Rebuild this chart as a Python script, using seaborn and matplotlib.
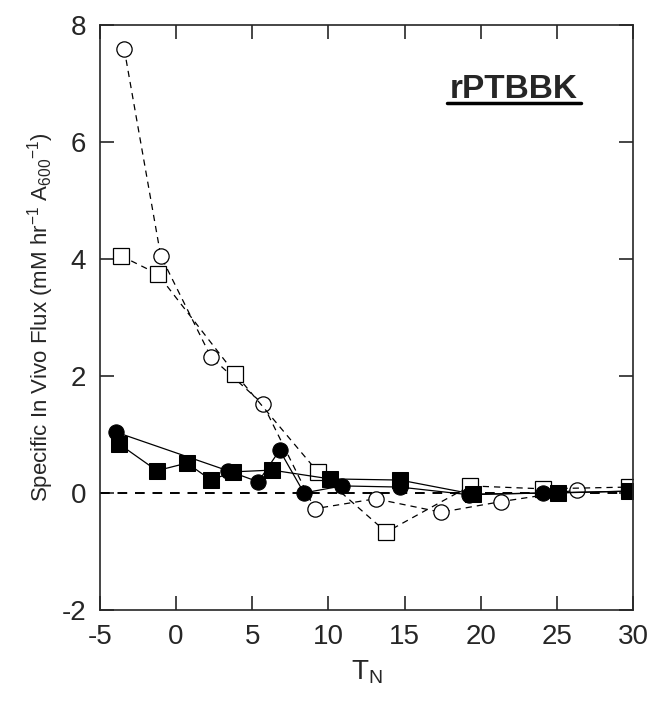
import numpy as np
import pandas as pd
import matplotlib
matplotlib.use('Agg')
import matplotlib.pyplot as plt
import seaborn as sns

# open circles (dashed)
oc_x = [-3.4, -1.0, 2.3, 5.7, 9.1, 13.1, 17.4, 21.3, 26.3]
oc_y = [7.59, 4.05, 2.32, 1.52, -0.27, -0.10, -0.33, -0.15, 0.05]
# open squares (dashed)
os_x = [-3.6, -1.2, 3.9, 9.3, 13.8, 19.3, 24.1, 29.7]
os_y = [4.05, 3.74, 2.03, 0.36, -0.67, 0.12, 0.07, 0.10]
# filled circles (solid)
fc_x = [-3.95, 3.4, 5.4, 6.8, 8.4, 10.9, 14.7, 19.2, 24.1, 29.7]
fc_y = [1.04, 0.38, 0.19, 0.73, 0.0, 0.12, 0.10, -0.03, 0.0, 0.03]
# filled squares (solid)
fs_x = [-3.75, -1.25, 0.72, 2.3, 3.75, 6.3, 10.1, 14.7, 19.5, 25.1, 29.7]
fs_y = [0.84, 0.38, 0.51, 0.22, 0.36, 0.39, 0.24, 0.22, -0.02, 0.0, 0.03]

sns.set_style('ticks')
plt.rcParams['font.family'] = ['Liberation Sans', 'DejaVu Sans']
plt.rcParams['axes.unicode_minus'] = False

fig = plt.figure(figsize=(6.48, 7.06), dpi=100)
ax = fig.add_axes([0.154, 0.136, 0.823, 0.829])

ax.axhline(0, color='black', lw=1.4, ls=(0, (5, 4)), zorder=1)

sns.lineplot(x=oc_x, y=oc_y, ax=ax, color='black', lw=0.9,
             marker='o', ms=11, mfc='white', mec='black', mew=0.9, sort=False)
ax.lines[-1].set_dashes((5, 4))
sns.lineplot(x=os_x, y=os_y, ax=ax, color='black', lw=0.9,
             marker='s', ms=11, mfc='white', mec='black', mew=0.9, sort=False)
ax.lines[-1].set_dashes((5, 4))
sns.lineplot(x=fc_x, y=fc_y, ax=ax, color='black', lw=0.9,
             marker='o', ms=11, mfc='black', mec='black', sort=False)
sns.lineplot(x=fs_x, y=fs_y, ax=ax, color='black', lw=0.9,
             marker='s', ms=11, mfc='black', mec='black', sort=False)

ax.set_xlim(-5, 30)
ax.set_ylim(-2, 8)
ax.set_xticks(np.arange(-5, 31, 5))
ax.set_yticks(np.arange(-2, 9, 2))
ax.tick_params(direction='in', length=10, width=1.2, top=True, right=True,
               labelsize=20, pad=10)
for s in ax.spines.values():
    s.set_linewidth(1.2)
    s.set_visible(True)

ax.set_xlabel('T$_\\mathregular{N}$', fontsize=20, labelpad=6)
ax.set_ylabel('Specific In Vivo Flux (mM hr$^\\mathregular{-1}$ A$_\\mathregular{600}$$^\\mathregular{-1}$)',
              fontsize=16)

ax.text(22.2, 6.9, 'rPTBBK', fontsize=24, fontweight='bold', ha='center', va='center')
ax.plot([17.8, 26.6], [6.67, 6.67], color='black', lw=2.5)

fig.savefig('out.png', dpi=100)
